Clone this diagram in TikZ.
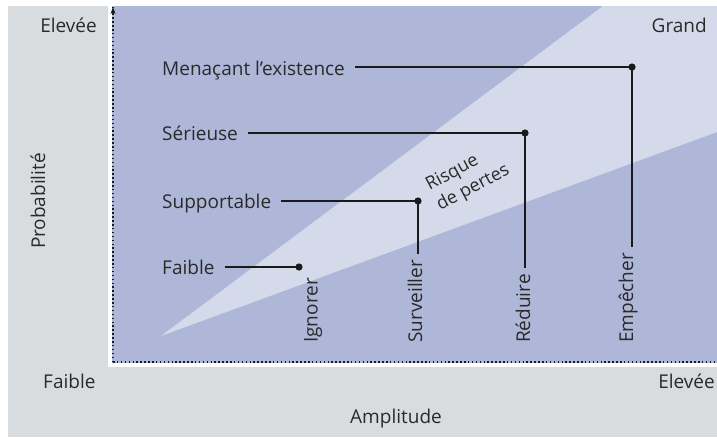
\documentclass[tikz,border=0pt]{standalone}
\usepackage{fontspec}
\setmainfont{Open Sans}
\usetikzlibrary{arrows.meta}
\definecolor{bggray}{HTML}{D9DCDF}
\definecolor{plotblue}{HTML}{AEB7D8}
\definecolor{bandlight}{HTML}{D5DAEA}
\definecolor{txt}{HTML}{2A2A2A}
\definecolor{ink}{HTML}{1A1A1A}
\begin{document}
\begin{tikzpicture}[x=1pt,y=-1pt,
  lab/.style={inner sep=0pt, font=\fontsize{19}{22}\selectfont, text=txt},
  vlab/.style={lab, rotate=90, anchor=west},
  conn/.style={draw=ink, line width=1.9pt},
  dot/.style={fill=ink},
  axis/.style={draw=ink, line width=1.5pt, dash pattern=on 1.5pt off 2.4pt}]
\useasboundingbox (0,0) rectangle (717,437);
\fill[white] (0,0) rectangle (717,437);
\fill[bggray] (8,6) rectangle (717,437);
\fill[white] (108,6) rectangle (717,367);
\fill[plotblue] (112,6) rectangle (717,363);
\fill[bandlight] (161,336) -- (603,6) -- (717,6) -- (717,132) -- cycle;
% axes
\coordinate (o) at (113,362);
\coordinate (ytop) at (113,7);
\coordinate (xend) at (716,362);
\draw[axis] (o) -- (ytop);
\draw[axis] (o) -- (xend);
\draw[ink, line width=1.2pt, -{Stealth[length=7pt,width=5pt]}] (113,14) -- (ytop);
% axis labels
\node[lab, anchor=base east] (hiY) at (97,32) {Elevée};
\node[lab, anchor=base east] (grand) at (707,32) {Grand};
\node[lab, anchor=base west] (loY) at (43,388) {Faible};
\node[lab, anchor=base east] (hiX) at (715,388) {Elevée};
\node[lab, anchor=base] (amp) at (396,423) {Amplitude};
\node[lab, rotate=90] (prob) at (38,201) {Probabilité};
% dots
\coordinate (d1) at (632,67);
\coordinate (d2) at (525,133);
\coordinate (d3) at (418,201);
\coordinate (d4) at (299,267);
% row labels
\node[lab, anchor=base west] (l1) at (162,75) {Menaçant l’existence};
\node[lab, anchor=base west] (l2) at (162,140) {Sérieuse};
\node[lab, anchor=base west] (l3) at (162,208) {Supportable};
\node[lab, anchor=base west] (l4) at (162,274) {Faible};
% column labels
\node[vlab] (c1) at (628,343) {Empêcher};
\node[vlab] (c2) at (523,343) {Réduire};
\node[vlab] (c3) at (415,343) {Surveiller};
\node[vlab] (c4) at (313,343) {Ignorer};
% band label
\node[lab, rotate=28, align=left, font=\fontsize{18}{23}\selectfont] (risk) at (468,178) {Risque\\de pertes};
% connectors
\foreach \i in {1,2,3,4} {
  \path (l\i.east |- d\i) coordinate (s\i);
  \draw[conn] ([xshift=10pt]s\i) -- (d\i);
}
\foreach \i in {1,2,3} {
  \path ([yshift=6pt]c\i.east) coordinate (t\i);
  \draw[conn] (d\i) -- (d\i |- t\i);
}
\foreach \i in {1,2,3,4} {
  \fill[dot] (d\i) circle (3.6pt);
}
\end{tikzpicture}
\end{document}
